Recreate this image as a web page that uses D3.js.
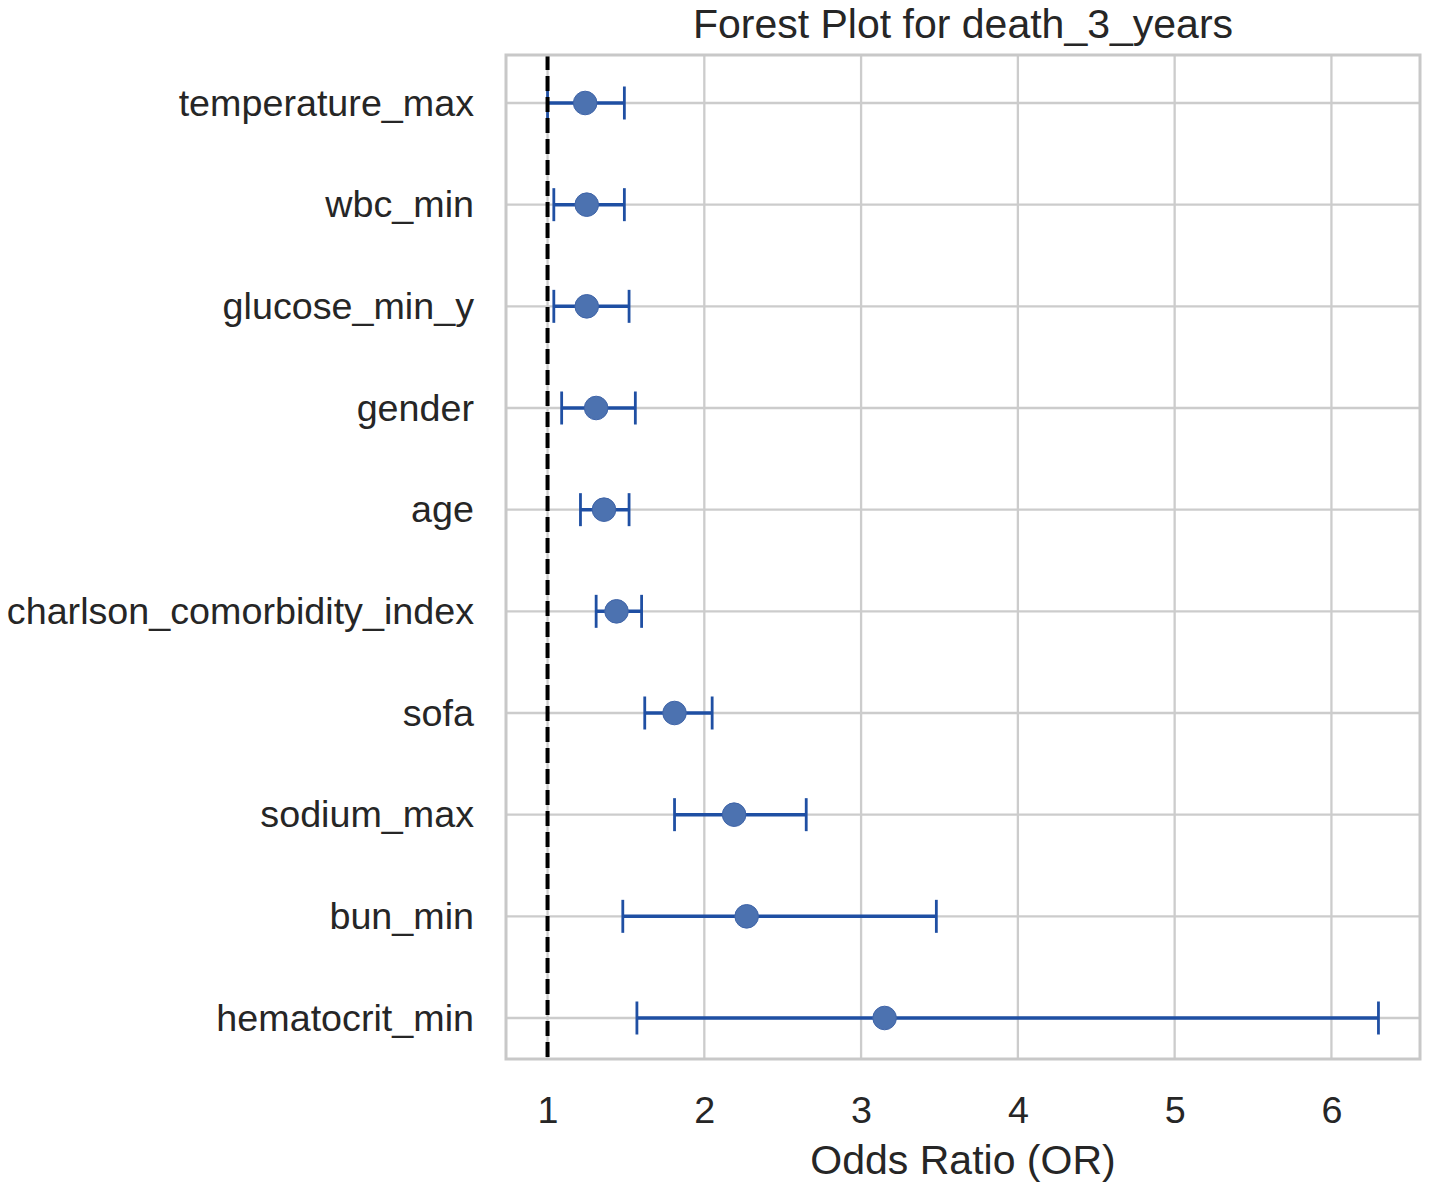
<!DOCTYPE html>
<html>
<head>
<meta charset="utf-8">
<script src="https://cdn.jsdelivr.net/npm/d3@7"></script>
<style>
  body { margin: 0; background: #fff; }
  text { font-family: "Liberation Sans", Arial, sans-serif; fill: #262626; }
</style>
</head>
<body>
<div id="chart"></div>
<script>
// forest plot values (top row first)
let labels = ["temperature_max", "wbc_min", "glucose_min_y", "gender", "age",
    "charlson_comorbidity_index", "sofa", "sodium_max", "bun_min", "hematocrit_min"];
let oddsRatio = [1.24, 1.25, 1.25, 1.31, 1.36, 1.44, 1.81, 2.19, 2.27, 3.15];
let lowerCI   = [1.00, 1.04, 1.04, 1.09, 1.21, 1.31, 1.62, 1.81, 1.48, 1.57];
let upperCI   = [1.49, 1.49, 1.52, 1.56, 1.52, 1.60, 2.05, 2.65, 3.48, 6.30];
let xTicks = [1, 2, 3, 4, 5, 6];
let refLine = 1;

let rows = labels.map((l, i) => ({label: l, or: oddsRatio[i], lo: lowerCI[i], hi: upperCI[i]}));

let width = 1429, height = 1187;
let margin = {top: 55, right: 9, bottom: 128, left: 506};
let plotBottom = height - margin.bottom;

let svg = d3.select("#chart").append("svg")
    .attr("width", width)
    .attr("height", height);

// matplotlib-like 5% margins on the data range
let lo = d3.min(lowerCI), hi = d3.max(upperCI);
let pad = (hi - lo) * 0.05;
let x = d3.scaleLinear()
    .domain([lo - pad, hi + pad])
    .range([margin.left, width - margin.right]);

// first and last row centres
let y = d3.scalePoint()
    .domain(labels)
    .range([103, 1018]);

// grid
svg.append("g").selectAll("line")
    .data(xTicks)
    .join("line")
    .attr("x1", d => x(d)).attr("x2", d => x(d))
    .attr("y1", margin.top).attr("y2", plotBottom)
    .attr("stroke", "#cccccc").attr("stroke-width", 2.3);

svg.append("g").selectAll("line")
    .data(labels)
    .join("line")
    .attr("x1", margin.left).attr("x2", width - margin.right)
    .attr("y1", d => y(d)).attr("y2", d => y(d))
    .attr("stroke", "#cccccc").attr("stroke-width", 2.3);

// error bars
let lineColor = "#1f4fa3";
let cap = 16.5;
let bars = svg.append("g").selectAll("g")
    .data(rows)
    .join("g");

bars.append("line")
    .attr("x1", d => x(d.lo)).attr("x2", d => x(d.hi))
    .attr("y1", d => y(d.label)).attr("y2", d => y(d.label))
    .attr("stroke", lineColor).attr("stroke-width", 3.5);

bars.append("line")
    .attr("x1", d => x(d.lo)).attr("x2", d => x(d.lo))
    .attr("y1", d => y(d.label) - cap).attr("y2", d => y(d.label) + cap)
    .attr("stroke", lineColor).attr("stroke-width", 2.8);

bars.append("line")
    .attr("x1", d => x(d.hi)).attr("x2", d => x(d.hi))
    .attr("y1", d => y(d.label) - cap).attr("y2", d => y(d.label) + cap)
    .attr("stroke", lineColor).attr("stroke-width", 2.8);

bars.append("circle")
    .attr("cx", d => x(d.or))
    .attr("cy", d => y(d.label))
    .attr("r", 11.8)
    .attr("fill", "#4c72b0")
    .attr("stroke", "#3f64a8")
    .attr("stroke-width", 1);

// reference line at OR = 1
svg.append("line")
    .attr("x1", x(refLine)).attr("x2", x(refLine))
    .attr("y1", margin.top).attr("y2", plotBottom)
    .attr("stroke", "#000").attr("stroke-width", 4)
    .attr("stroke-dasharray", "15,6");

// frame
svg.append("rect")
    .attr("x", margin.left).attr("y", margin.top)
    .attr("width", width - margin.right - margin.left)
    .attr("height", plotBottom - margin.top)
    .attr("fill", "none")
    .attr("stroke", "#c8c8c8")
    .attr("stroke-width", 3);

// axes
let xAxis = svg.append("g")
    .attr("transform", "translate(0," + plotBottom + ")")
    .call(d3.axisBottom(x).tickValues(xTicks).tickSize(0).tickPadding(37).tickFormat(d3.format("d")));
xAxis.select(".domain").remove();
xAxis.selectAll("text")
    .style("font-size", "37.7px")
    .attr("fill", "#262626")
    .style("font-family", '"Liberation Sans", Arial, sans-serif');

let yAxis = svg.append("g")
    .attr("transform", "translate(" + margin.left + ",0)")
    .call(d3.axisLeft(y).tickSize(0).tickPadding(32));
yAxis.select(".domain").remove();
yAxis.selectAll("text")
    .style("font-size", "37.7px")
    .attr("fill", "#262626")
    .style("font-family", '"Liberation Sans", Arial, sans-serif');

let cx = (margin.left + width - margin.right) / 2;

svg.append("text")
    .attr("x", cx)
    .attr("y", 38)
    .attr("text-anchor", "middle")
    .style("font-size", "41px")
    .text("Forest Plot for death_3_years");

svg.append("text")
    .attr("x", cx)
    .attr("y", 1174)
    .attr("text-anchor", "middle")
    .style("font-size", "41px")
    .text("Odds Ratio (OR)");
</script>
</body>
</html>
